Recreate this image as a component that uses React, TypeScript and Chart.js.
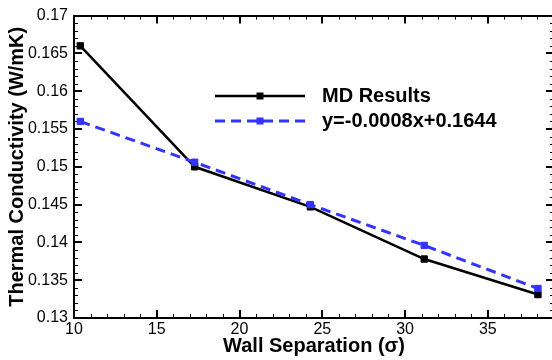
import { useEffect, useRef } from "react";
import { Chart, registerables } from "chart.js";

Chart.register(...registerables);

// ---- data ----
const wallSeparation = [10.38, 17.29, 24.28, 31.16, 38.03];
const mdResults = [0.166, 0.15, 0.1447, 0.1378, 0.1331];
const linearFit = [0.156, 0.1506, 0.145, 0.1396, 0.1339];
const xTickLabels = ["10", "15", "20", "25", "30", "35"];
const yTickLabels = ["0.13", "0.135", "0.14", "0.145", "0.15", "0.155", "0.16", "0.165", "0.17"];
const seriesLabels = ["MD Results", "y=-0.0008x+0.1644"];
const xTitle = "Wall Separation (σ)";
const yTitle = "Thermal Conductivity (W/mK)";

const FONT = '"Liberation Sans", Arial, Helvetica, sans-serif';
const BLACK = "#000000";
const BLUE = "#3333ff";

const findLabel = (labels: string[], v: number) =>
  labels.find((l) => Math.abs(Number(l) - v) < 1e-7) ?? "";

const framePlugin = {
  id: "frame",
  beforeDatasetsDraw(chart: any) {
    const { ctx, chartArea: a, scales } = chart;
    const xs = scales.x;
    const ys = scales.y;
    ctx.save();
    ctx.strokeStyle = BLACK;
    // x ticks (bottom and top, inward)
    for (let i = Math.ceil(xs.min); i <= xs.max + 1e-9; i++) {
      const major = i % 5 === 0;
      const len = major ? 8 : 4;
      ctx.lineWidth = major ? 2 : 1;
      const px = Math.round(xs.getPixelForValue(i)) + (major ? 0 : 0.5);
      ctx.beginPath();
      ctx.moveTo(px, a.bottom);
      ctx.lineTo(px, a.bottom - len);
      ctx.moveTo(px, a.top);
      ctx.lineTo(px, a.top + len);
      ctx.stroke();
    }
    // y ticks (left and right, inward)
    const k0 = Math.round(ys.min * 1000);
    const k1 = Math.round(ys.max * 1000);
    for (let k = k0; k <= k1; k++) {
      const major = k % 5 === 0;
      const len = major ? 8 : 4;
      ctx.lineWidth = major ? 2 : 1;
      const py = Math.round(ys.getPixelForValue(k / 1000)) + (major ? 0 : 0.5);
      ctx.beginPath();
      ctx.moveTo(a.left, py);
      ctx.lineTo(a.left + len, py);
      ctx.moveTo(a.right, py);
      ctx.lineTo(a.right - len, py);
      ctx.stroke();
    }
    // frame
    ctx.lineWidth = 2;
    ctx.strokeRect(Math.round(a.left), Math.round(a.top), Math.round(a.width), Math.round(a.height));
    ctx.restore();
  },
};

const legendPlugin = {
  id: "customLegend",
  afterDatasetsDraw(chart: any) {
    const { ctx } = chart;
    const entries = [
      { label: seriesLabels[0], color: BLACK, dash: [] as number[], width: 2.5, y: 96 },
      { label: seriesLabels[1], color: BLUE, dash: [10, 6], width: 3, y: 121 },
    ];
    ctx.save();
    for (const e of entries) {
      ctx.strokeStyle = e.color;
      ctx.lineWidth = e.width;
      ctx.setLineDash(e.dash);
      ctx.beginPath();
      ctx.moveTo(215, e.y);
      ctx.lineTo(305, e.y);
      ctx.stroke();
      ctx.setLineDash([]);
      ctx.fillStyle = e.color;
      ctx.fillRect(260 - 3.5, e.y - 3.5, 7, 7);
      ctx.fillStyle = BLACK;
      ctx.font = `bold 20px ${FONT}`;
      ctx.textAlign = "left";
      ctx.textBaseline = "middle";
      ctx.fillText(e.label, 322, e.y);
    }
    ctx.restore();
  },
};

export default function App() {
  const canvasRef = useRef<HTMLCanvasElement | null>(null);

  useEffect(() => {
    const canvas = canvasRef.current;
    if (!canvas) return;
    const chart = new Chart(canvas, {
      type: "line",
      data: {
        datasets: [
          {
            label: seriesLabels[0],
            data: wallSeparation.map((x, i) => ({ x, y: mdResults[i] })),
            borderColor: BLACK,
            backgroundColor: BLACK,
            borderWidth: 2.5,
            pointStyle: "rect",
            pointRadius: 4.5,
            pointBorderWidth: 1,
            pointBackgroundColor: BLACK,
            pointBorderColor: BLACK,
            tension: 0,
            order: 1,
          },
          {
            label: seriesLabels[1],
            data: wallSeparation.map((x, i) => ({ x, y: linearFit[i] })),
            borderColor: BLUE,
            backgroundColor: BLUE,
            borderWidth: 3,
            borderDash: [10, 6],
            pointStyle: "rect",
            pointRadius: 4.5,
            pointBorderWidth: 1,
            pointBackgroundColor: BLUE,
            pointBorderColor: BLUE,
            tension: 0,
            order: 0,
          },
        ],
      },
      options: {
        animation: false,
        responsive: false,
        devicePixelRatio: 1,
        layout: { padding: { top: 10, right: 6, bottom: 0, left: 0 } },
        plugins: {
          legend: { display: false },
          tooltip: { enabled: false },
        },
        scales: {
          x: {
            type: "linear",
            min: 10,
            max: 39,
            grid: { display: false, drawTicks: false },
            border: { display: false },
            ticks: {
              stepSize: 5,
              includeBounds: false,
              autoSkip: false,
              maxRotation: 0,
              padding: 2,
              color: BLACK,
              font: { family: FONT, size: 16 },
              callback: (v: any) => findLabel(xTickLabels, Number(v)),
            },
            title: {
              display: true,
              text: xTitle,
              color: BLACK,
              font: { family: FONT, size: 20, weight: "bold" },
              padding: { top: 0, bottom: 2 },
            },
            afterFit: (s: any) => {
              s.height = 42;
            },
          },
          y: {
            type: "linear",
            min: 0.13,
            max: 0.17,
            grid: { display: false, drawTicks: false },
            border: { display: false },
            ticks: {
              stepSize: 0.005,
              autoSkip: false,
              padding: 6,
              color: BLACK,
              font: { family: FONT, size: 16 },
              callback: (v: any) => findLabel(yTickLabels, Number(v)),
            },
            title: {
              display: true,
              text: yTitle,
              color: BLACK,
              font: { family: FONT, size: 20, weight: "bold" },
              padding: { top: 5, bottom: 0 },
            },
            afterFit: (s: any) => {
              s.width = 74;
            },
          },
        },
      },
      plugins: [framePlugin, legendPlugin],
    });
    return () => chart.destroy();
  }, []);

  return (
    <canvas
      ref={canvasRef}
      width={560}
      height={360}
      style={{ position: "fixed", left: 0, top: 0, display: "block", width: 560, height: 360 }}
    />
  );
}
